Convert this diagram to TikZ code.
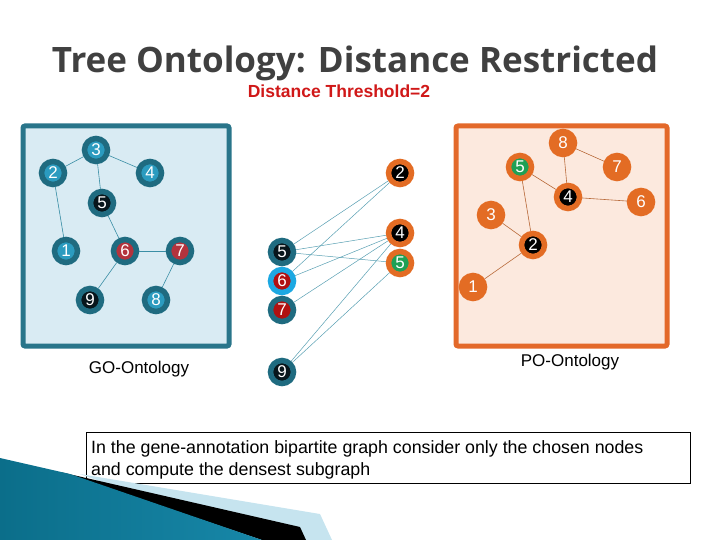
\documentclass[tikz,border=0pt]{standalone}
\usepackage{fontspec}
\setmainfont{Liberation Sans}
\newfontfamily\titlefont{Open Sans}

\definecolor{goframe}{HTML}{29758A}
\definecolor{gofill}{HTML}{D9EBF3}
\definecolor{goring}{HTML}{1F6B80}
\definecolor{goin}{HTML}{2B9BBF}
\definecolor{gocyan}{HTML}{1CA8E2}
\definecolor{goblack}{HTML}{08161C}
\definecolor{gored}{HTML}{B3333D}
\definecolor{darkred}{HTML}{B01010}
\definecolor{poframe}{HTML}{E3692A}
\definecolor{pofill}{HTML}{FCE9DE}
\definecolor{poring}{HTML}{E36C24}
\definecolor{pogreen}{HTML}{1FA055}
\definecolor{goline}{HTML}{3A8EA5}
\definecolor{poline}{HTML}{B86A3A}
\definecolor{titlegray}{HTML}{404040}
\definecolor{subred}{HTML}{D01818}
\definecolor{swooshdark}{HTML}{0B6E8A}
\definecolor{swooshmid}{HTML}{4AB4D8}
\definecolor{swooshend}{HTML}{1787A8}
\definecolor{swooshpale}{HTML}{C6E4EF}

\tikzset{
  gonode/.style={circle, minimum size=23pt, inner sep=0pt, line width=5.5pt,
    draw=goring, fill=goin, text=white, font=\fontsize{17}{17}\selectfont},
  ponode/.style={gonode, draw=poring, fill=poring},
  goedge/.style={draw=goline, line width=0.6pt},
  poedge/.style={draw=poline, line width=0.6pt},
  bipedge/.style={draw=goline!85, line width=0.5pt}
}

\begin{document}
\begin{tikzpicture}[x=1pt,y=-1pt]
  \useasboundingbox (0,0) rectangle (720,540);

  % title
  \node[anchor=base, text=titlegray, font=\titlefont\bfseries\fontsize{35}{35}\selectfont]
    (title) at (355,73) {Tree Ontology: Distance Restricted};
  \node[anchor=base, text=subred, font=\bfseries\fontsize{17.5}{17.5}\selectfont]
    (threshold) at (339,98) {Distance Threshold=2};

  % the two ontology frames
  \draw[goframe, line width=5pt, fill=gofill, rounded corners=2pt] (23,126) rectangle (229,346);
  \draw[poframe, line width=5pt, fill=pofill, rounded corners=2pt] (456,126) rectangle (667,346);

  % GO tree
  \node[gonode] (g3) at (96,150) {3};
  \node[gonode] (g2) at (53,173) {2};
  \node[gonode] (g4) at (150,173) {4};
  \node[gonode, fill=goblack] (g5) at (102,203) {5};
  \node[gonode] (g1) at (66,251) {1};
  \node[gonode, fill=gored] (g6) at (125,251) {6};
  \node[gonode, fill=gored] (g7) at (180,251) {7};
  \node[gonode, fill=goblack] (g9) at (90,300) {9};
  \node[gonode] (g8) at (156,300) {8};
  \draw[goedge] (g3) -- (g2);
  \draw[goedge] (g3) -- (g4);
  \draw[goedge] (g3) -- (g5);
  \draw[goedge] (g2) -- (g1);
  \draw[goedge] (g5) -- (g6);
  \draw[goedge] (g6) -- (g7);
  \draw[goedge] (g6) -- (g9);
  \draw[goedge] (g7) -- (g8);

  % PO tree
  \node[ponode] (p8) at (563,143) {8};
  \node[ponode, fill=pogreen] (p5) at (520,167) {5};
  \node[ponode] (p7) at (617,167) {7};
  \node[ponode, fill=black] (p4) at (568,197) {4};
  \node[ponode] (p6) at (641,202) {6};
  \node[ponode] (p3) at (491,215) {3};
  \node[ponode, fill=black] (p2) at (533,245) {2};
  \node[ponode] (p1) at (473,287) {1};
  \draw[poedge] (p8) -- (p7);
  \draw[poedge] (p8) -- (p4);
  \draw[poedge] (p5) -- (p4);
  \draw[poedge] (p4) -- (p6);
  \draw[poedge] (p5) -- (p2);
  \draw[poedge] (p3) -- (p2);
  \draw[poedge] (p2) -- (p1);

  % bipartite graph
  \node[gonode, fill=goblack] (b5) at (282,252) {5};
  \node[gonode, draw=gocyan, fill=darkred] (b6) at (282,281) {6};
  \node[gonode, fill=darkred] (b7) at (282,310) {7};
  \node[gonode, fill=goblack] (b9) at (282,372) {9};
  \node[gonode, draw=poring, fill=black] (c2) at (400,173) {2};
  \node[gonode, draw=poring, fill=black] (c4) at (400,233) {4};
  \node[gonode, draw=poring, fill=pogreen] (c5) at (400,263) {5};
  \draw[bipedge] (b5) -- (c2);
  \draw[bipedge] (b5) -- (c4);
  \draw[bipedge] (b5) -- (c5);
  \draw[bipedge] (b6) -- (c2);
  \draw[bipedge] (b6) -- (c4);
  \draw[bipedge] (b7) -- (c4);
  \draw[bipedge] (b9) -- (c4);
  \draw[bipedge] (b9) -- (c5);

  % captions
  \node[font=\fontsize{17}{17}\selectfont] (golabel) at (139,369) {GO-Ontology};
  \node[font=\fontsize{17}{17}\selectfont] (polabel) at (570,362) {PO-Ontology};

  % note box
  \draw[black, line width=0.8pt, fill=white] (86,432) rectangle (690,483);
  \node[anchor=north west, align=left, inner sep=0pt, font=\fontsize{17.8}{22}\selectfont]
    (note) at (91,440) {In the gene-annotation bipartite graph consider only the chosen nodes\\
    and compute the densest subgraph};

  % corner swoosh
  \fill[swooshpale] (80,474) -- (320,514) -- (332,540) -- (262,540) -- cycle;
  \fill[black] (60,472) -- (300,527) -- (306,540) -- (262,540) -- cycle;
  \shade[left color=swooshdark, middle color=swooshmid, right color=swooshend]
    (0,458) -- (70,474) -- (262,540) -- (0,540) -- cycle;
\end{tikzpicture}
\end{document}
